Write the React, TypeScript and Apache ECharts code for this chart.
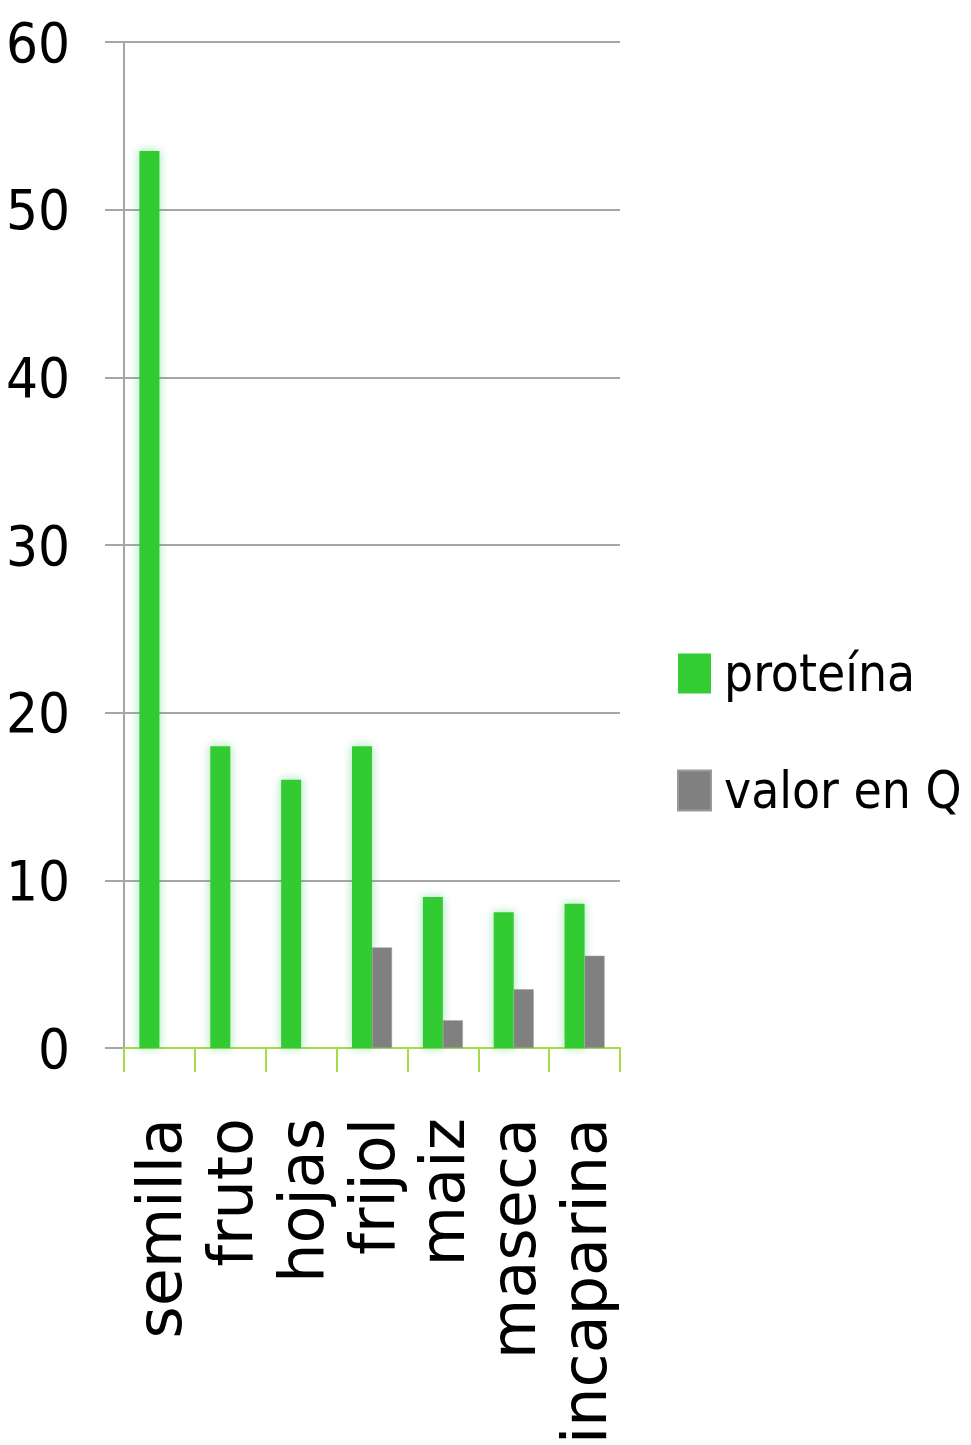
import React, { useEffect, useRef } from "react";
import * as echarts from "echarts";

const categories = ["semilla", "fruto", "hojas", "frijol", "maiz", "maseca", "incaparina"];
const proteina = [53.5, 18, 16, 18, 9, 8.1, 8.6];
const valorEnQ: (number | null)[] = [null, null, null, 6, 1.65, 3.5, 5.5];
const yTicks = [0, 10, 20, 30, 40, 50, 60];

export default function App() {
  const ref = useRef<HTMLDivElement>(null);
  useEffect(() => {
    document.body.style.margin = "0";
    if (!ref.current) return;
    const chart = echarts.init(ref.current, undefined, { renderer: "svg" });
    chart.setOption({
      animation: false,
      backgroundColor: "#ffffff",
      grid: {
        left: 124,
        right: 351,
        top: 42,
        bottom: 397,
        containLabel: false,
        outerBoundsMode: "none",
      },
      legend: {
        orient: "vertical",
        left: 677,
        top: 648,
        padding: 0,
        itemWidth: 33,
        itemHeight: 40,
        itemGap: 66,
        icon: "rect",
        textStyle: {
          fontFamily: "'DejaVu Sans Condensed', sans-serif",
          fontSize: 51,
          color: "#000",
          padding: [0, 0, 0, 8],
        },
        data: ["proteína", "valor en Q"],
      },
      xAxis: {
        type: "category",
        data: categories,
        boundaryGap: true,
        axisLine: { show: true, lineStyle: { color: "#a4dc48", width: 2 } },
        axisTick: { show: true, length: 24, lineStyle: { color: "#a4dc48", width: 2 } },
        axisLabel: {
          interval: 0,
          rotate: 90,
          margin: 70,
          fontFamily: "'DejaVu Sans', sans-serif",
          fontSize: 62,
          color: "#000",
        },
        splitLine: { show: false },
      },
      yAxis: {
        type: "value",
        min: 0,
        max: 60,
        interval: 10,
        axisLine: { show: true, lineStyle: { color: "#a6a6a6", width: 2 } },
        axisTick: { show: true, inside: false, length: 19, lineStyle: { color: "#a6a6a6", width: 2 } },
        axisLabel: {
          margin: 54,
          fontFamily: "'DejaVu Sans Condensed', sans-serif",
          fontSize: 56,
          color: "#000",
          formatter: (v: number) => (yTicks.includes(v) ? String(v) : ""),
        },
        splitLine: { show: true, lineStyle: { color: "#a6a6a6", width: 2 } },
      },
      series: [
        {
          name: "proteína",
          type: "bar",
          data: proteina,
          barWidth: 20,
          barGap: "0%",
          itemStyle: {
            color: "#33cc33",
            shadowBlur: 10,
            shadowColor: "rgba(40,190,80,0.45)",
          },
        },
        {
          name: "valor en Q",
          type: "bar",
          data: valorEnQ,
          barWidth: 20,
          barGap: "0%",
          itemStyle: { color: "#808080", borderColor: "#9a9a9a", borderWidth: 0.5 },
        },
      ],
    });
    return () => chart.dispose();
  }, []);
  return <div ref={ref} style={{ width: 971, height: 1445 }} />;
}
